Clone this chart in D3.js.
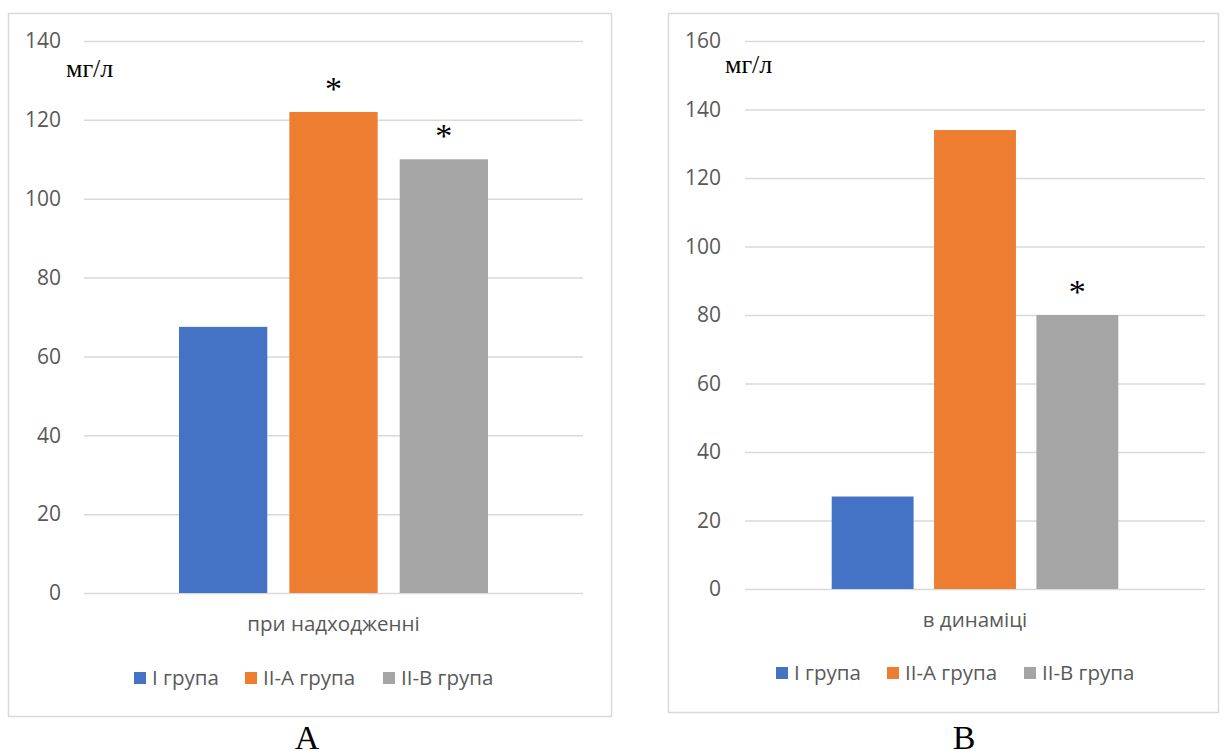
<!DOCTYPE html>
<html>
<head>
<meta charset="utf-8">
<script src="https://cdn.jsdelivr.net/npm/d3@7"></script>
<style>
  html, body { margin: 0; padding: 0; background: #fff; }
  svg { display: block; }
</style>
</head>
<body>
<svg id="chart" width="1224" height="751"></svg>
<script>
// Groups and colours
const groups = ["І група", "ІІ-А група", "ІІ-В група"];
const colors = ["#4472C4", "#ED7D31", "#A5A5A5"];

// Panel A: on admission
const categoryA = "при надходженні";
const valuesA = [67.5, 122, 110];
const starsA = [false, true, true];
const ticksA = [0, 20, 40, 60, 80, 100, 120, 140];

// Panel B: over time
const categoryB = "в динаміці";
const valuesB = [27, 134, 80];
const starsB = [false, false, true];
const ticksB = [0, 20, 40, 60, 80, 100, 120, 140, 160];

const unit = "мг/л";

const svg = d3.select("#chart");
const sansFont = "'Open Sans', 'Noto Sans', sans-serif";
const serifFont = "'Liberation Serif', 'DejaVu Serif', serif";

function panel(cfg) {
  const g = svg.append("g");

  // outer frame
  g.append("rect")
    .attr("x", cfg.frame[0] + 0.5).attr("y", cfg.frame[1] + 0.5)
    .attr("width", cfg.frame[2]).attr("height", cfg.frame[3])
    .attr("fill", "#fff").attr("stroke", "#d9d9d9").attr("stroke-width", 1.5);

  const y = d3.scaleLinear()
    .domain([0, d3.max(cfg.ticks)])
    .range([cfg.plot.bottom, cfg.plot.top]);

  const x0 = d3.scaleBand()
    .domain([cfg.category])
    .range([cfg.plot.left, cfg.plot.right])
    .paddingInner(0.2)
    .paddingOuter(cfg.outerPad);

  const x1 = d3.scaleBand()
    .domain(groups)
    .range([0, x0.bandwidth()])
    .paddingInner(0.2)
    .paddingOuter(0);

  // gridlines and tick labels
  const axis = d3.axisLeft(y)
    .tickValues(cfg.ticks)
    .tickSize(-(cfg.plot.right - cfg.plot.left))
    .tickPadding(cfg.tickPad);

  const ax = g.append("g")
    .attr("transform", `translate(${cfg.plot.left},0)`)
    .call(axis);
  ax.select(".domain").remove();
  ax.selectAll(".tick line").attr("stroke", "#d9d9d9").attr("stroke-width", 1.5);
  ax.selectAll(".tick text")
    .attr("fill", "#595959")
    .style("font-family", sansFont)
    .style("font-size", "21px");

  // bars
  const cat = g.append("g").attr("transform", `translate(${x0(cfg.category)},0)`);
  cat.selectAll("rect.bar")
    .data(cfg.values)
    .join("rect")
    .attr("class", "bar")
    .attr("x", (d, i) => x1(groups[i]))
    .attr("width", x1.bandwidth())
    .attr("y", d => y(d))
    .attr("height", d => y(0) - y(d))
    .attr("fill", (d, i) => colors[i]);

  // significance markers
  cat.selectAll("text.star")
    .data(cfg.values.map((v, i) => ({ v, i, s: cfg.stars[i] })).filter(d => d.s))
    .join("text")
    .attr("class", "star")
    .attr("x", d => x1(groups[d.i]) + x1.bandwidth() / 2)
    .attr("y", d => y(d.v) - 12)
    .attr("text-anchor", "middle")
    .style("font-family", serifFont)
    .style("font-size", "34px")
    .attr("fill", "#000")
    .text("*");

  // unit label
  g.append("text")
    .attr("x", cfg.unitPos[0]).attr("y", cfg.unitPos[1])
    .style("font-family", serifFont)
    .style("font-size", "26px")
    .attr("fill", "#000")
    .text(unit);

  // category label
  g.append("text")
    .attr("x", x0(cfg.category) + x0.bandwidth() / 2)
    .attr("y", cfg.catY)
    .attr("text-anchor", "middle")
    .style("font-family", sansFont)
    .style("font-size", "20.5px")
    .attr("fill", "#595959")
    .text(cfg.category);

  // legend
  const leg = g.append("g").attr("transform", `translate(${cfg.legend[0]},${cfg.legend[1]})`);
  const items = leg.selectAll("g").data(groups).join("g")
    .attr("transform", (d, i) => `translate(${cfg.legendX[i]},0)`);
  items.append("rect")
    .attr("x", 0).attr("y", -6).attr("width", 12).attr("height", 12)
    .attr("fill", (d, i) => colors[i]);
  items.append("text")
    .attr("x", 18).attr("y", 0)
    .attr("dy", "0.35em")
    .style("font-family", sansFont)
    .style("font-size", "20.5px")
    .attr("fill", "#595959")
    .text(d => d);

  // panel letter
  svg.append("text")
    .attr("x", cfg.letterPos[0]).attr("y", cfg.letterPos[1])
    .attr("text-anchor", "middle")
    .style("font-family", serifFont)
    .style("font-size", "34px")
    .attr("fill", "#000")
    .text(cfg.letter);
}

panel({
  frame: [8, 13, 603, 703],
  plot: { left: 84, right: 583, top: 41, bottom: 593 },
  outerPad: 0.246,
  ticks: ticksA,
  tickPad: 23,
  values: valuesA,
  stars: starsA,
  category: categoryA,
  unitPos: [66, 77],
  catY: 631,
  legend: [0, 678],
  legendX: [134, 245, 383],
  letter: "A",
  letterPos: [307, 749]
});

panel({
  frame: [668, 13, 550, 699],
  plot: { left: 745, right: 1205, top: 41, bottom: 589 },
  outerPad: 0.242,
  ticks: ticksB,
  tickPad: 24,
  values: valuesB,
  stars: starsB,
  category: categoryB,
  unitPos: [725, 73],
  catY: 627,
  legend: [0, 673],
  legendX: [776, 887, 1024],
  letter: "B",
  letterPos: [964, 749]
});
</script>
</body>
</html>
